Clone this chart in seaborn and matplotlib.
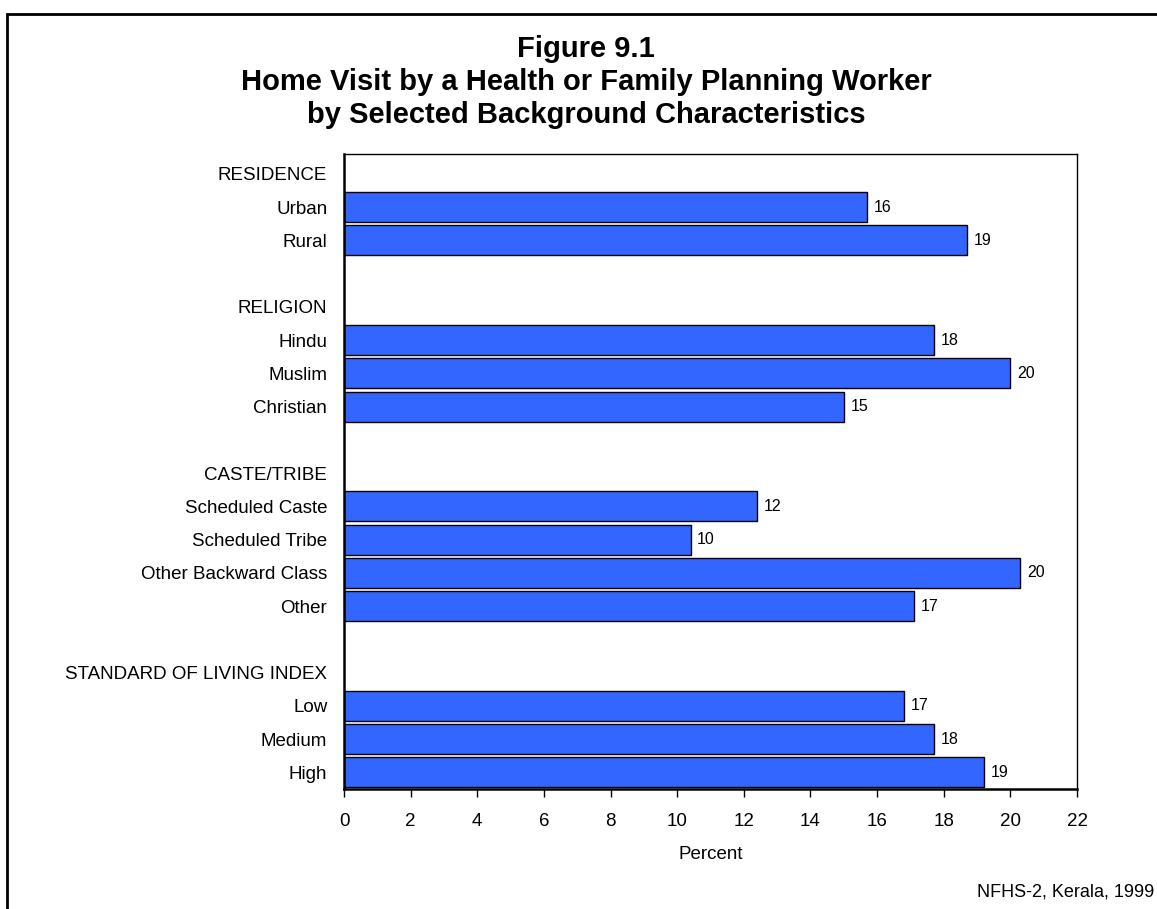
import pandas as pd
import numpy as np
import matplotlib.pyplot as plt
import seaborn as sns
from matplotlib.patches import Rectangle

# rows top to bottom, headers/blank rows carry no bar
rows = ['RESIDENCE', 'Urban', 'Rural', ' ',
        'RELIGION', 'Hindu', 'Muslim', 'Christian', '  ',
        'CASTE/TRIBE', 'Scheduled Caste', 'Scheduled Tribe', 'Other Backward Class', 'Other', '   ',
        'STANDARD OF LIVING INDEX', 'Low', 'Medium', 'High']
values = [np.nan, 15.7, 18.7, np.nan,
          np.nan, 17.7, 20.0, 15.0, np.nan,
          np.nan, 12.4, 10.4, 20.3, 17.1, np.nan,
          np.nan, 16.8, 17.7, 19.2]
xticks = list(range(0, 23, 2))

df = pd.DataFrame({'row': rows, 'pct': values})

sns.set_style('white')
plt.rcParams['font.family'] = ['Liberation Sans', 'DejaVu Sans']
plt.rcParams.update({'text.color': 'black', 'axes.labelcolor': 'black',
                     'xtick.color': 'black', 'ytick.color': 'black'})

fig = plt.figure(figsize=(11.57, 9.09), dpi=100)
ax = fig.add_axes([344/1157, 1-789/909, (1077-344)/1157, (789-154)/909])

sns.barplot(data=df, x='pct', y='row', order=rows, color='#3366FF',
            edgecolor='black', linewidth=1, width=0.9, saturation=1, ax=ax)

for i, v in enumerate(values):
    if not np.isnan(v):
        ax.text(v + 0.2, i, '%d' % round(v), va='center', ha='left', fontsize=11.5)

ax.set_xlim(0, 22)
ax.set_ylim(18.5, -0.6)
ax.set_xticks(xticks)
ax.set_xticklabels([str(t) for t in xticks], fontsize=13.5)
ax.tick_params(axis='x', direction='out', length=6, width=1, bottom=True, pad=11)
ax.tick_params(axis='y', length=0, labelsize=13.5, pad=12)
ax.set_xlabel('Percent', fontsize=13.5, labelpad=12)
ax.set_ylabel('')
for s in ax.spines.values():
    s.set_color('black')
    s.set_linewidth(1)
ax.spines['left'].set_linewidth(1.8)
ax.spines['bottom'].set_linewidth(1.8)

title_lines = ['Figure 9.1', 'Home Visit by a Health or Family Planning Worker',
               'by Selected Background Characteristics']
for k, line in enumerate(title_lines):
    fig.text(586/1157, 1-(57 + 33*k)/909, line, ha='center', va='baseline',
             fontsize=21, fontweight='bold')
fig.text(1154/1157, 1-892/909, 'NFHS-2, Kerala, 1999', ha='right', va='center', fontsize=13)

# outer frame
fig.patches.append(Rectangle((7/1157, -0.05), 1.1, 1-14/909+0.05, transform=fig.transFigure,
                             fill=False, edgecolor='black', linewidth=2))

fig.savefig('out.png', dpi=100)
